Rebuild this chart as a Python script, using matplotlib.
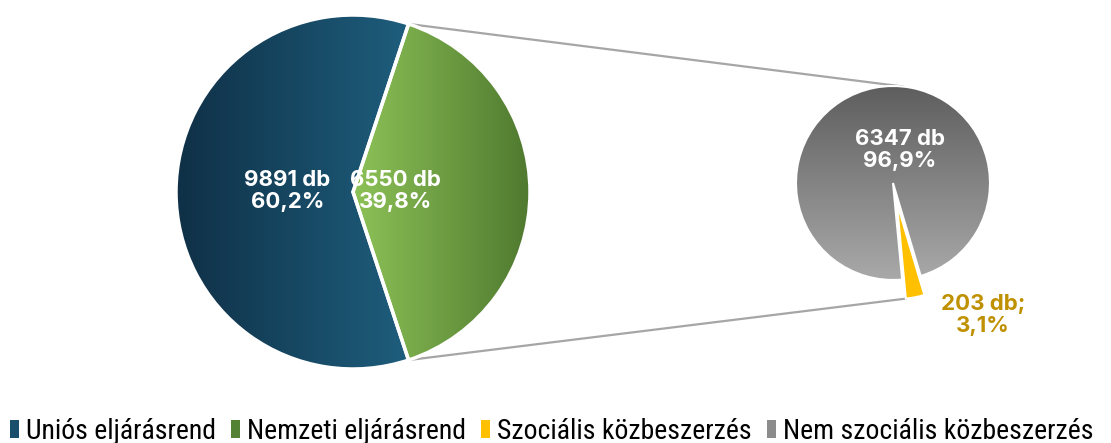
import numpy as np
import matplotlib.pyplot as plt
from matplotlib.colors import LinearSegmentedColormap
from matplotlib.patches import Patch

# data
main_labels = ['Uniós eljárásrend', 'Nemzeti eljárásrend']
main_values = [9891, 6550]
main_pct = ['60,2%', '39,8%']
sub_labels = ['Szociális közbeszerzés', 'Nem szociális közbeszerzés']
sub_values = [203, 6347]
sub_pct = ['3,1%', '96,9%']

W, H = 1111, 443
fig = plt.figure(figsize=(W / 100, H / 100), dpi=100)
ax = fig.add_axes([0, 0, 1, 1])

blue_cm = LinearSegmentedColormap.from_list('b', ['#0f3046', '#1e5e7d'])
green_cm = LinearSegmentedColormap.from_list('g', ['#8dc257', '#4f792f'])
grey_cm = LinearSegmentedColormap.from_list('k', ['#a9a9a9', '#5e5e5e'])


def fill_gradient(wedge, cmap, vertical=False):
    # paint the wedge with a linear gradient clipped to its shape
    wedge.set_facecolor('none')
    x0, y0, x1, y1 = wedge.get_path().transformed(wedge.get_patch_transform()).get_extents().extents
    grad = np.linspace(0, 1, 256)
    img = grad[:, None] if vertical else grad[None, :]
    im = ax.imshow(img, cmap=cmap, extent=[x0, x1, y0, y1],
                   origin='lower', aspect='auto', zorder=1)
    im.set_clip_path(wedge)


# main pie
c1, r1 = (353, 251), 177
start1 = 180 * main_values[1] / sum(main_values)
w1, _ = ax.pie(main_values, center=c1, radius=r1, startangle=start1, counterclock=True,
               wedgeprops=dict(edgecolor='white', linewidth=2.5), frame=True)
for w, cm in zip(w1, [blue_cm, green_cm]):
    fill_gradient(w, cm)
    w.set_zorder(2)

# second pie
c2, r2 = (893, 260), 97
frac = sub_values[0] / sum(sub_values) * 360
start2 = -79 - frac / 2
w2, _ = ax.pie(sub_values, center=c2, radius=r2, startangle=start2, counterclock=True,
               explode=[0.2 * r2, 0], colors=['#ffc000', 'none'],
               wedgeprops=dict(edgecolor='white', linewidth=1.5), frame=True)
fill_gradient(w2[1], grey_cm, vertical=True)
w2[1].set_zorder(2)
w2[0].set_zorder(3)

ax.set_xlim(0, W)
ax.set_ylim(0, H)
ax.set_aspect('equal')
ax.axis('off')

# connector lines
g = w1[1]
top_a, bot_a = np.deg2rad(g.theta2), np.deg2rad(g.theta1)
p_top = (c1[0] + r1 * np.cos(top_a), c1[1] + r1 * np.sin(top_a))
p_bot = (c1[0] + r1 * np.cos(bot_a), c1[1] + r1 * np.sin(bot_a))
y = w2[0]
ya = np.deg2rad(y.theta1)
q_top = (c2[0] + r2 * np.cos(-ya), c2[1] + r2 * np.sin(-ya))
q_bot = (y.center[0] + y.r * np.cos(ya), y.center[1] + y.r * np.sin(ya))
for p, q in [(p_top, q_top), (p_bot, q_bot)]:
    ax.plot([p[0], q[0]], [p[1], q[1]], color='#a6a6a6', lw=1.6, zorder=0)

# labels
lab_font = dict(family=['Inter', 'DejaVu Sans'], fontsize=16, fontweight='bold',
                ha='center', va='center', linespacing=1.15, zorder=5)
ax.text(c1[0] - 0.37 * r1, c1[1] + 1, f'{main_values[0]} db\n{main_pct[0]}', color='white', **lab_font)
ax.text(c1[0] + 0.24 * r1, c1[1] + 1, f'{main_values[1]} db\n{main_pct[1]}', color='white', **lab_font)
ax.text(c2[0] + 7, c2[1] + 33, f'{sub_values[1]} db\n{sub_pct[1]}', color='white', **lab_font)
ax.text(983, 128, f'{sub_values[0]} db;\n{sub_pct[0]}', color='#bf9000', **lab_font)

# legend
handles = [Patch(facecolor='#1a4f6c'), Patch(facecolor='#548235'),
           Patch(facecolor='#ffc000'), Patch(facecolor='#8c8c8c')]
ax.legend(handles, main_labels + sub_labels, loc='lower left', bbox_to_anchor=(-0.001, -0.03),
          ncol=4, frameon=False, handlelength=0.32, handleheight=0.62, handletextpad=0.25,
          columnspacing=0.55, borderaxespad=0,
          prop=dict(family=['Roboto Condensed', 'DejaVu Sans'], size=20))

fig.savefig('out.png', dpi=100)
